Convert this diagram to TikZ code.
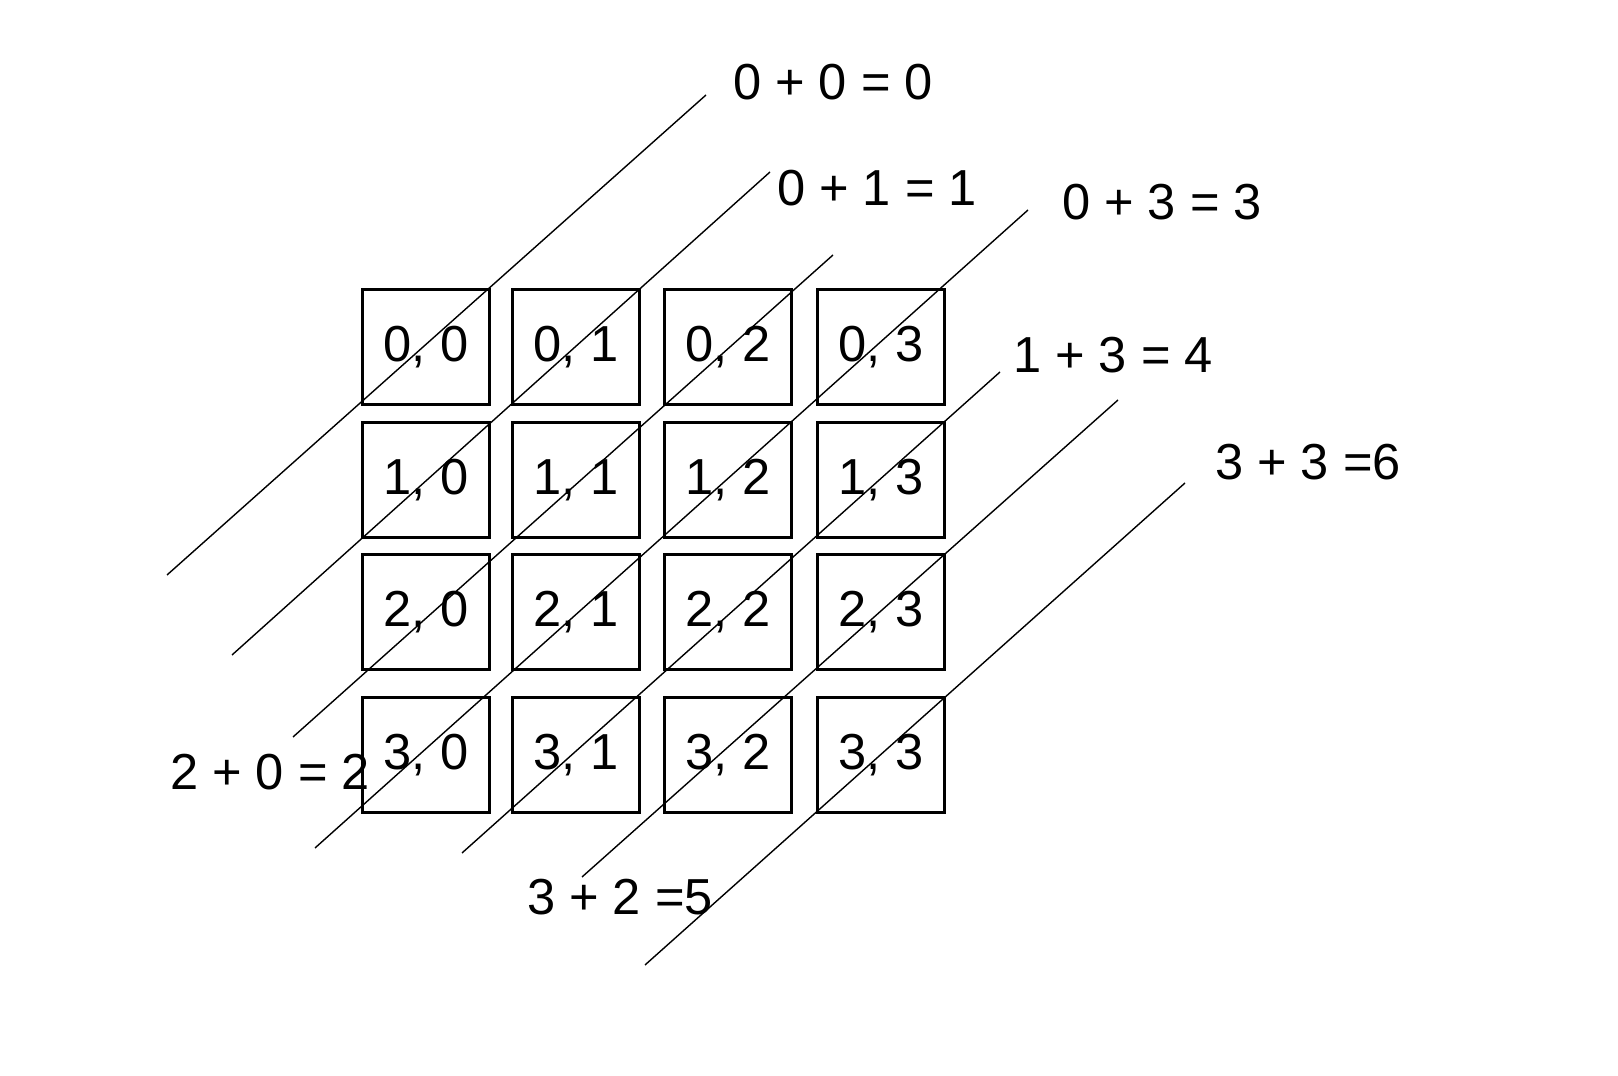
\documentclass[tikz,border=0pt]{standalone}
\usepackage{fontspec}
\setmainfont{Liberation Sans}
\usetikzlibrary{positioning}
\tikzset{
  cell/.style ={draw, thick, minimum width=1.27cm, minimum height=1.15cm, inner sep=0pt, font=\Large},
  diag/.style ={thin},
  sum/.style  ={font=\Large, anchor=center},
}
\begin{document}
\begin{tikzpicture}
  \useasboundingbox (0,0) rectangle (16.18,10.76);

  % ---------- grid of pairs ----------
  \foreach \r/\y in {0/7.29,1/5.96,2/4.64,3/3.21}
    \foreach \c/\x in {0/4.26,1/5.76,2/7.28,3/8.81}
      \node[cell] (c\r\c) at (\x,\y) {\r,\ \c};

  % ---------- diagonals ----------
  \coordinate (a1) at (1.67,5.01);  \coordinate (b1) at (7.06,9.81);
  \coordinate (a2) at (2.32,4.21);  \coordinate (b2) at (7.70,9.04);
  \coordinate (a3) at (2.93,3.39);  \coordinate (b3) at (8.33,8.21);
  \coordinate (a4) at (3.15,2.28);  \coordinate (b4) at (10.28,8.66);
  \coordinate (a5) at (4.62,2.23);  \coordinate (b5) at (10.00,7.04);
  \coordinate (a6) at (5.82,1.99);  \coordinate (b6) at (11.18,6.76);
  \coordinate (a7) at (6.45,1.11);  \coordinate (b7) at (11.85,5.93);
  \foreach \i in {1,...,7}
    \draw[diag] (a\i) -- (b\i);

  % ---------- sums ----------
  \node[sum] (s00) at (8.33,9.94) {0 + 0 = 0};
  \node[sum] (s01) at (8.77,8.88) {0 + 1 = 1};
  \node[sum] (s03) at (11.62,8.74) {0 + 3 = 3};
  \node[sum] (s13) at (11.13,7.21) {1 + 3 = 4};
  \node[sum] (s33) at (13.08,6.14) {3 + 3 =6};
  \node[sum] (s20) at (2.70,3.04) {2 + 0 = 2};
  \node[sum] (s32) at (6.20,1.79) {3 + 2 =5};
\end{tikzpicture}
\end{document}
